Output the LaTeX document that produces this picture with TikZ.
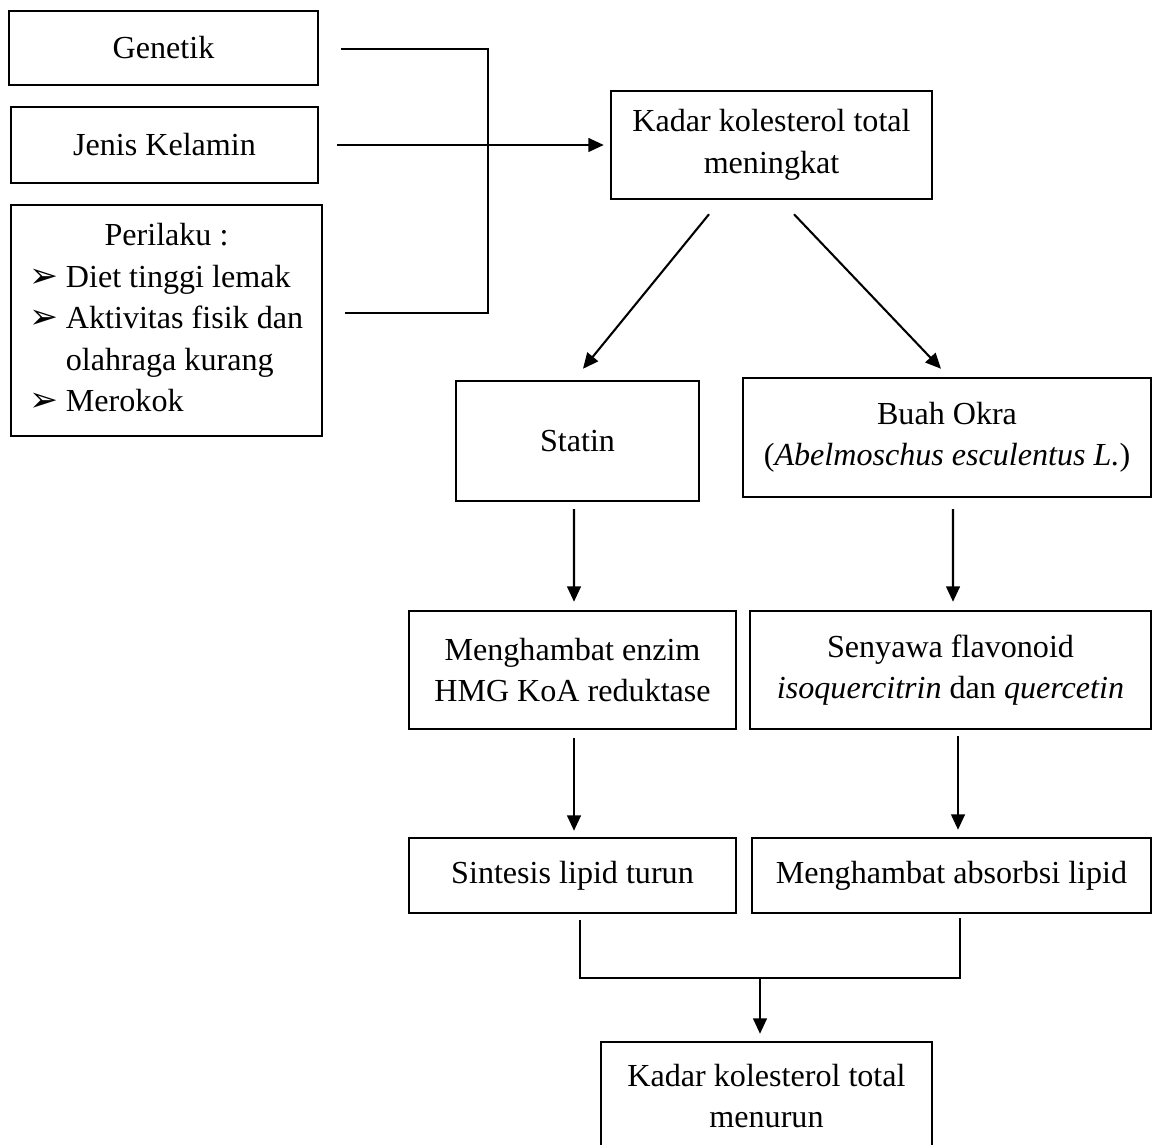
\documentclass[tikz,border=0pt]{standalone}
\usepackage{fontspec}
\setmainfont{Liberation Serif}
\newfontfamily\panahfont{DejaVu Sans}
\usetikzlibrary{arrows.meta,calc}
\newdimen\satuan
\satuan=0.3614pt
\newcommand{\butir}{\makebox[36\satuan][l]{\panahfont\fontsize{12.5}{15}\selectfont ➢}}
\tikzset{
  kotak/.style={draw,line width=0.9pt,align=center,inner sep=0pt,font=\fontsize{11.6}{15}\selectfont},
  garis/.style={line width=0.75pt},
  panah/.style={line width=0.75pt,-{Triangle[length=5.6pt,width=5pt]}}
}
\begin{document}
\begin{tikzpicture}[x=\satuan,y=-\satuan]
    \useasboundingbox (0,0) rectangle (1153,1144);
    \clip (0,0) rectangle (1153,1144);
    \node[kotak,minimum width=309\satuan,minimum height=74\satuan] (genetik) at (163.5,48) {Genetik};
    \node[kotak,minimum width=307\satuan,minimum height=76\satuan] (jenis) at (164.5,145) {Jenis Kelamin};
    \node[kotak,minimum width=311\satuan,minimum height=231\satuan] (perilaku) at (166.5,320.5)
      {\begin{tabular}{@{}l@{}l@{}}
        \multicolumn{2}{c}{Perilaku :}\\
        \butir & Diet tinggi lemak\\
        \butir & Aktivitas fisik dan\\
               & olahraga kurang\\
        \butir & Merokok
       \end{tabular}};
    \node[kotak,minimum width=321\satuan,minimum height=108\satuan] (naik) at (771.5,145) {Kadar kolesterol total\\meningkat};
    \node[kotak,minimum width=243\satuan,minimum height=120\satuan] (statin) at (577.5,441) {Statin};
    \node[kotak,minimum width=408\satuan,minimum height=119\satuan] (okra) at (947,437.5) {Buah Okra\\(\textit{Abelmoschus esculentus L.})};
    \node[kotak,minimum width=327\satuan,minimum height=118\satuan] (hambat) at (572.5,670) {Menghambat enzim\\HMG KoA reduktase};
    \node[kotak,minimum width=401\satuan,minimum height=118\satuan] (flavonoid) at (950.5,670) {Senyawa flavonoid\\\textit{isoquercitrin} dan \textit{quercetin}};
    \node[kotak,minimum width=327\satuan,minimum height=75\satuan] (sintesis) at (572.5,875.5) {Sintesis lipid turun};
    \node[kotak,minimum width=399\satuan,minimum height=75\satuan] (absorbsi) at (951.5,875.5) {Menghambat absorbsi lipid};
    \node[kotak,minimum width=331\satuan,minimum height=108\satuan] (turun) at (766.5,1096) {Kadar kolesterol total\\menurun};
    \coordinate (siku1) at (488,49);
    \coordinate (siku2) at (488,313);
    \coordinate (gabung) at (760,978);
    \draw[garis] ($(genetik.east)+(22,1)$) -- (siku1) -- (siku2) -- ($(perilaku.east)+(22,-7.5)$);
    \draw[panah] ($(jenis.east)+(18,0)$) -- ($(naik.west)+(-6,0)$);
    \draw[panah] ($(naik.south)+(-62.5,14)$) -- ($(statin.north)+(5.5,-11)$);
    \draw[panah] ($(naik.south)+(22.5,14)$) -- ($(okra.north)+(-6,-8)$);
    \draw[panah] ($(statin.south)+(-3.5,7)$) -- ($(hambat.north)+(1.5,-8)$);
    \draw[panah] ($(okra.south)+(6,11)$) -- ($(flavonoid.north)+(2.5,-8)$);
    \draw[panah] ($(hambat.south)+(1.5,8)$) -- ($(sintesis.north)+(1.5,-6)$);
    \draw[panah] ($(flavonoid.south)+(7.5,6)$) -- ($(absorbsi.north)+(6.5,-7)$);
    \draw[garis] ($(sintesis.south)+(7.5,6)$) |- (gabung) -| ($(absorbsi.south)+(8.5,4)$);
    \draw[panah] (gabung) -- ($(turun.north)+(-6.5,-7)$);
\end{tikzpicture}
\end{document}
